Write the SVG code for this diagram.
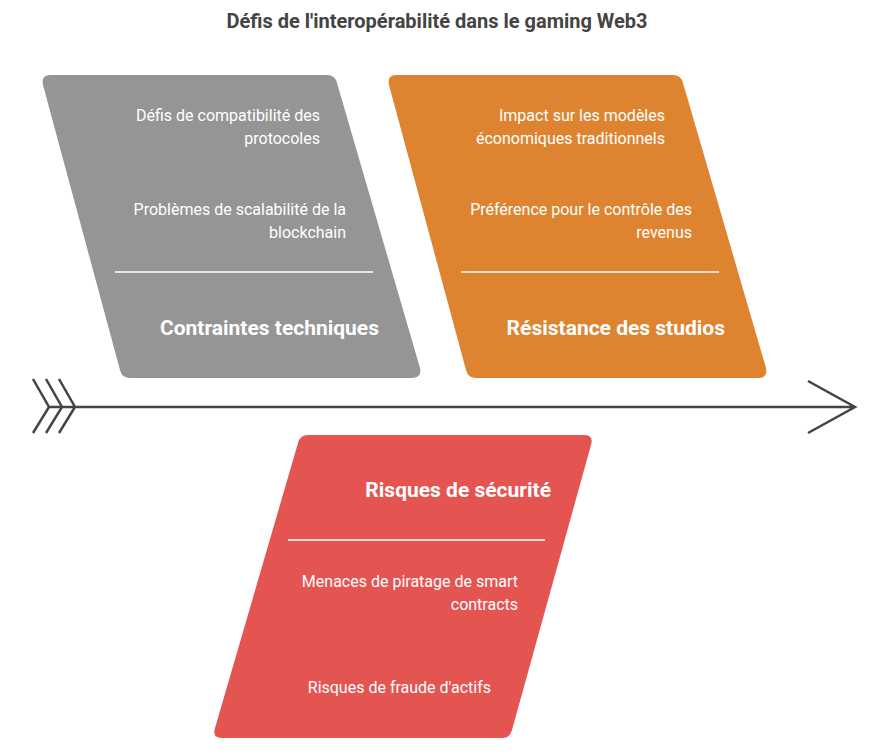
<svg xmlns="http://www.w3.org/2000/svg" width="874" height="754" viewBox="0 0 874 754">
<style>
.t{font-family:Roboto,"Liberation Sans",sans-serif;font-size:16px;fill:#fff;text-anchor:end}
.h{font-family:Roboto,"Liberation Sans",sans-serif;font-size:21px;font-weight:bold;fill:#fff;text-anchor:end}
.ln{stroke:#fff;stroke-width:1.5}
.c{stroke:#444;stroke-width:2.5;fill:none}
</style>
<rect width="874" height="754" fill="#fff"/>
<text x="437" y="28" text-anchor="middle" font-family="Roboto,'Liberation Sans',sans-serif" font-size="20" font-weight="bold" fill="#444">Défis de l'interopérabilité dans le gaming Web3</text>
<g id="connectors">
<path class="c" d="M49 407H855M808 381L855 407L808 433M33 379L49 407L33 433M46 379L62 407L46 433M59 379L75 407L59 433"/>
</g>
<g id="tech">
<path d="M50 75H327Q335 75 337 83L420 368Q422 378 412 378H130Q122 378 120 370L43 85Q41 75 50 75Z" fill="#959595"/>
<text class="t" x="320" y="121">Défis de compatibilité des</text>
<text class="t" x="320" y="144">protocoles</text>
<text class="t" x="346" y="215">Problèmes de scalabilité de la</text>
<text class="t" x="346" y="238">blockchain</text>
<line class="ln" x1="115" y1="272" x2="373" y2="272"/>
<text class="h" x="379" y="335">Contraintes techniques</text>
</g>
<g id="studios">
<path d="M396 75H673Q681 75 683 83L766 368Q768 378 758 378H476Q468 378 466 370L389 85Q387 75 396 75Z" fill="#de8431"/>
<text class="t" x="665" y="121">Impact sur les modèles</text>
<text class="t" x="665" y="144">économiques traditionnels</text>
<text class="t" x="692" y="215">Préférence pour le contrôle des</text>
<text class="t" x="692" y="238">revenus</text>
<line class="ln" x1="461" y1="272" x2="719" y2="272"/>
<text class="h" x="725" y="335">Résistance des studios</text>
</g>
<g id="securite">
<path d="M308 435H584Q594 435 591 445L512 730Q510 738 502 738H222Q212 738 215 728L298 443Q300 435 308 435Z" fill="#e45552"/>
<text class="h" x="551" y="497">Risques de sécurité</text>
<line class="ln" x1="288" y1="540" x2="545" y2="540"/>
<text class="t" x="518" y="587">Menaces de piratage de smart</text>
<text class="t" x="518" y="610">contracts</text>
<text class="t" x="491" y="693">Risques de fraude d'actifs</text>
</g>
</svg>
